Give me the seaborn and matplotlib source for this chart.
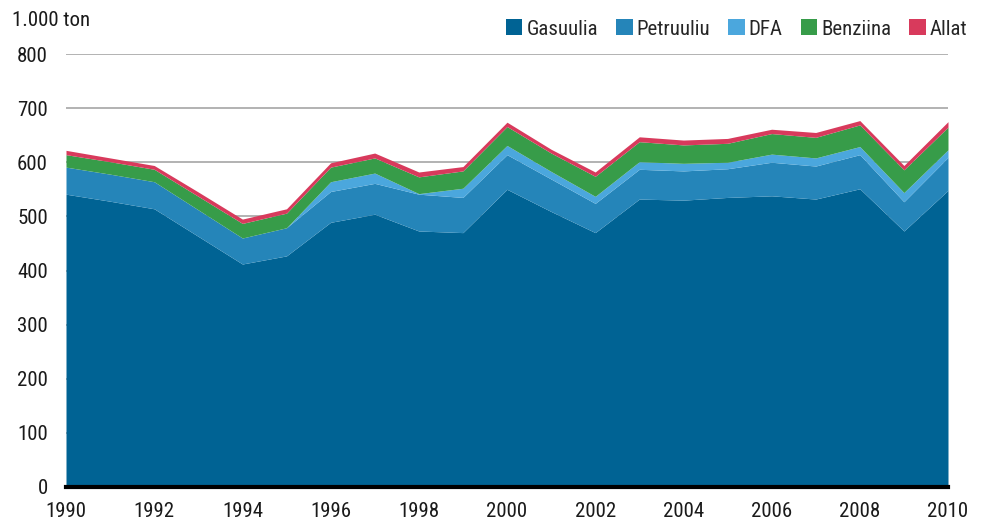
import numpy as np
import pandas as pd
import matplotlib
matplotlib.use("Agg")
import matplotlib.pyplot as plt
import seaborn as sns
from matplotlib.patches import Patch
from matplotlib import font_manager

years = list(range(1990, 2011))
gasuulia = [541, 528, 514, 463, 412, 427, 489, 504, 473, 470, 550, 509, 470, 532, 530, 535, 538, 532, 551, 473, 548]
petruuliu = [50, 50, 50, 49, 48, 52, 57, 57, 68, 65, 64, 60, 54, 55, 54, 53, 62, 61, 63, 54, 61]
dfa = [0, 0, 0, 0, 0, 0, 18, 19, 1, 17, 17, 14, 13, 14, 14, 12, 15, 15, 15, 17, 14]
benziina = [23, 23, 23, 25, 27, 27, 27, 28, 31, 32, 35, 34, 37, 37, 34, 35, 38, 38, 40, 42, 42]
allat = [8, 7, 7, 8, 8, 8, 8, 9, 9, 8, 8, 7, 8, 9, 9, 9, 8, 9, 8, 8, 10]

series_names = ["Gasuulia", "Petruuliu", "DFA", "Benziina", "Allat"]
colors = ["#006394", "#2585b9", "#4ba7dd", "#379c49", "#d83a5c"]
y_ticks = [0, 100, 200, 300, 400, 500, 600, 700, 800]
x_ticks = list(range(1990, 2011, 2))
unit_label = "1.000 ton"

df = pd.DataFrame({"year": years, "Gasuulia": gasuulia, "Petruuliu": petruuliu,
                   "DFA": dfa, "Benziina": benziina, "Allat": allat})

sns.set_theme(style="white")
available = {f.name for f in font_manager.fontManager.ttflist}
fams = [f for f in ["Roboto Condensed", "Liberation Sans Narrow", "Open Sans Condensed", "Roboto"] if f in available]
plt.rcParams["font.family"] = fams + ["DejaVu Sans"]
fs = 15 if fams and "Condensed" in fams[0] else 13

fig = plt.figure(figsize=(9.84, 5.23), dpi=100)
ax = fig.add_axes([66/984, 1-487/523, (948-66)/984, (487-54)/523])

ax.stackplot(df["year"], *[df[n] for n in series_names], colors=colors,
             linewidth=0, zorder=2)

for t in y_ticks[1:]:
    ax.axhline(t, color="#a6a6a6", lw=1.2, zorder=1)

ax.set_xlim(1990, 2010)
ax.set_ylim(0, 800)
ax.set_xticks(x_ticks)
ax.set_yticks(y_ticks)
ax.tick_params(axis="both", labelsize=fs, length=0, colors="#1a1a1a")
ax.tick_params(axis="x", pad=11)
ax.tick_params(axis="y", pad=13)
for s in ["top", "right", "left"]:
    ax.spines[s].set_visible(False)
ax.spines["bottom"].set_color("black")
ax.spines["bottom"].set_linewidth(3)
ax.spines["bottom"].set_zorder(5)
ax.grid(False)

fig.text(12/984, 1-21/523, unit_label, fontsize=fs, color="#1a1a1a", va="center", ha="left")

handles = [Patch(facecolor=c, edgecolor="none") for c in colors]
fig.legend(handles, series_names, loc="center right", bbox_to_anchor=(976/984, 1-29/523),
           ncol=5, frameon=False, fontsize=fs, handlelength=0.8, handleheight=0.8,
           handletextpad=0.2, columnspacing=0.85, borderaxespad=0)

fig.savefig("out.png", dpi=100)
